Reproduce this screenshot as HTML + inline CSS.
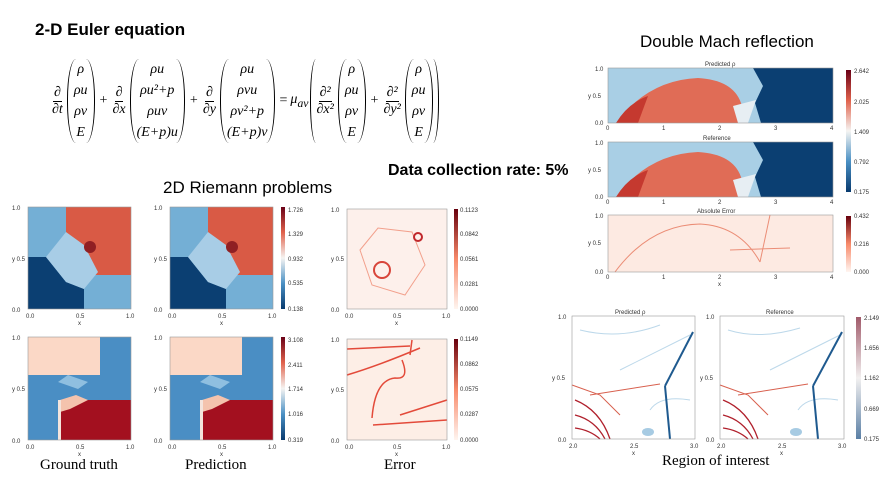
<!DOCTYPE html>
<html><head><meta charset="utf-8"><style>
body{margin:0;background:#fff;width:895px;height:478px;overflow:hidden;position:relative;font-family:"Liberation Sans",sans-serif}
.t{position:absolute;white-space:nowrap}
svg text{font-family:"Liberation Sans",sans-serif}
.eq{position:absolute;left:50px;top:56px;height:90px;display:flex;align-items:center;font-family:"Liberation Serif",serif;font-size:14px;font-style:italic}
.fr{display:inline-flex;flex-direction:column;align-items:center;margin:0 2px}
.fr span:first-child{border-bottom:1px solid #000;padding:0 1px}
.vec{display:inline-flex;flex-direction:column;align-items:center;justify-content:space-around;height:84px;border-left:1.3px solid #000;border-right:1.3px solid #000;border-radius:9px/40px;padding:0 6px;margin:0 2px}
.op{margin:0 3px;font-style:normal}
</style></head><body>
<svg width="895" height="478" style="position:absolute;left:0;top:0">
<defs>
<linearGradient id="rb" x1="0" y1="1" x2="0" y2="0"><stop offset="0" stop-color="#083a6e"/><stop offset=".25" stop-color="#4a90c4"/><stop offset=".5" stop-color="#f5f4f2"/><stop offset=".75" stop-color="#e0624c"/><stop offset="1" stop-color="#690016"/></linearGradient>
<linearGradient id="rd" x1="0" y1="1" x2="0" y2="0"><stop offset="0" stop-color="#fff5f0"/><stop offset=".5" stop-color="#f88a6a"/><stop offset="1" stop-color="#67000d"/></linearGradient>
<linearGradient id="rbp" x1="0" y1="1" x2="0" y2="0"><stop offset="0" stop-color="#5a7fa5"/><stop offset=".5" stop-color="#f2f0f0"/><stop offset="1" stop-color="#a05a6a"/></linearGradient>
<g id="r1">
<rect width="103" height="102" fill="#74afd5"/>
<rect x="38" width="65" height="68" fill="#d95a45"/>
<polygon points="0,50 18,50 38,75 56,82 56,102 0,102" fill="#0b3f72"/>
<polygon points="18,50 38,25 56,38 70,65 56,82 38,75" fill="#a8cde6"/>
<circle cx="62" cy="40" r="6" fill="#901f23"/>
</g>
<g id="r2">
<rect width="103" height="103" fill="#4a8ec4"/>
<rect width="72" height="38" fill="#fbd8c6"/>
<polygon points="40,38 60,45 50,52 30,45" fill="#8fbfe0"/>
<rect x="32" y="63" width="71" height="40" fill="#a3101f"/>
<polygon points="32,63 48,58 60,63 42,72 32,75" fill="#f4c3ad"/>
<rect x="30" y="63" width="3" height="40" fill="#f4e4dc"/>
</g>
<g id="dmr">
<rect width="225" height="55" fill="#a9cfe5"/>
<polygon points="145,0 225,0 225,55 153,55 147,35 155,18" fill="#0b3f72"/>
<path d="M8,55 Q40,12 90,10 Q125,12 133,35 L140,55 Z" fill="#e06c56"/>
<path d="M8,55 Q20,35 40,28 L30,55Z" fill="#c5392f"/>
<polygon points="125,38 148,32 140,55 130,55" fill="#e7eef3"/>
</g>
</defs>
<use href="#r1" x="28" y="207"/><use href="#r1" x="170" y="207"/>
<rect x="347" y="209" width="100" height="100" fill="#fdf0eb"/>
<polygon points="360,250 378,228 412,232 425,265 405,295 372,285" fill="none" stroke="#f2a08c" stroke-width="1"/>
<circle cx="382" cy="270" r="8" fill="none" stroke="#d8453a" stroke-width="2"/><circle cx="418" cy="237" r="4" fill="none" stroke="#c0282c" stroke-width="2"/>
<use href="#r2" x="28" y="337"/><use href="#r2" x="170" y="337"/>
<rect x="347" y="339" width="100" height="101" fill="#fdeee6"/>
<g fill="none" stroke="#e34a3a" stroke-width="1.5"><path d="M347,349 L410,346"/><path d="M347,375 Q380,365 420,348"/><path d="M373,425 L447,420"/><path d="M372,418 Q375,380 395,378 Q410,380 402,360"/><path d="M400,415 L447,400"/><path d="M410,355 L412,340"/></g>
<g fill="url(#rb)"><rect x="281" y="207" width="4" height="102"/><rect x="281" y="337" width="4" height="103"/></g>
<g fill="url(#rd)"><rect x="454" y="209" width="4" height="100"/><rect x="454" y="339" width="4" height="101"/></g>
<g fill="none" stroke="#999" stroke-width=".6"><rect x="28" y="207" width="103" height="102"/><rect x="170" y="207" width="103" height="102"/><rect x="347" y="209" width="100" height="100"/><rect x="28" y="337" width="103" height="103"/><rect x="170" y="337" width="103" height="103"/><rect x="347" y="339" width="100" height="101"/></g>
<g font-size="6" fill="#333">
<text x="12" y="210">1.0</text><text x="12" y="261">y 0.5</text><text x="12" y="312">0.0</text><text x="26" y="318">0.0</text><text x="76" y="318">0.5</text><text x="126" y="318">1.0</text><text x="78" y="325">x</text>
<text x="154" y="210">1.0</text><text x="154" y="261">y 0.5</text><text x="154" y="312">0.0</text><text x="168" y="318">0.0</text><text x="218" y="318">0.5</text><text x="268" y="318">1.0</text><text x="220" y="325">x</text>
<text x="12" y="340">1.0</text><text x="12" y="391">y 0.5</text><text x="12" y="443">0.0</text><text x="26" y="449">0.0</text><text x="76" y="449">0.5</text><text x="126" y="449">1.0</text><text x="78" y="456">x</text>
<text x="154" y="340">1.0</text><text x="154" y="391">y 0.5</text><text x="154" y="443">0.0</text><text x="168" y="449">0.0</text><text x="218" y="449">0.5</text><text x="268" y="449">1.0</text><text x="220" y="456">x</text>
<text x="331" y="212">1.0</text><text x="331" y="261">y 0.5</text><text x="331" y="312">0.0</text><text x="345" y="318">0.0</text><text x="393" y="318">0.5</text><text x="442" y="318">1.0</text><text x="395" y="325">x</text>
<text x="331" y="342">1.0</text><text x="331" y="392">y 0.5</text><text x="331" y="443">0.0</text><text x="345" y="449">0.0</text><text x="393" y="449">0.5</text><text x="442" y="449">1.0</text><text x="395" y="456">x</text>
<text x="288" y="212">1.726</text><text x="288" y="236">1.329</text><text x="288" y="261">0.932</text><text x="288" y="285">0.535</text><text x="288" y="311">0.138</text>
<text x="288" y="342">3.108</text><text x="288" y="367">2.411</text><text x="288" y="391">1.714</text><text x="288" y="416">1.016</text><text x="288" y="442">0.319</text>
<text x="460" y="212">0.1123</text><text x="460" y="236">0.0842</text><text x="460" y="261">0.0561</text><text x="460" y="286">0.0281</text><text x="460" y="311">0.0000</text>
<text x="460" y="341">0.1149</text><text x="460" y="366">0.0862</text><text x="460" y="391">0.0575</text><text x="460" y="416">0.0287</text><text x="460" y="442">0.0000</text>
</g>
<use href="#dmr" x="608" y="68"/><use href="#dmr" x="608" y="142"/>
<rect x="608" y="215" width="225" height="57" fill="#fdeae2"/>
<g fill="none" stroke="#eb8d76" stroke-width="1"><path d="M615,272 Q650,225 700,224 Q740,226 760,262"/><path d="M760,262 L770,215"/><path d="M730,250 L790,248"/></g>
<rect x="846" y="70" width="5" height="122" fill="url(#rb)"/><rect x="846" y="216" width="5" height="56" fill="url(#rd)"/>
<g fill="none" stroke="#999" stroke-width=".6"><rect x="608" y="68" width="225" height="55"/><rect x="608" y="142" width="225" height="55"/><rect x="608" y="215" width="225" height="57"/></g>
<g font-size="6" fill="#333">
<text x="705" y="66">Predicted ρ</text><text x="703" y="140">Reference</text><text x="697" y="213">Absolute Error</text>
<text x="595" y="71">1.0</text><text x="588" y="98">y 0.5</text><text x="595" y="125">0.0</text>
<text x="595" y="145">1.0</text><text x="588" y="172">y 0.5</text><text x="595" y="199">0.0</text>
<text x="595" y="218">1.0</text><text x="588" y="245">y 0.5</text><text x="595" y="274">0.0</text>
<text x="606" y="130">0</text><text x="662" y="130">1</text><text x="718" y="130">2</text><text x="774" y="130">3</text><text x="830" y="130">4</text>
<text x="606" y="204">0</text><text x="662" y="204">1</text><text x="718" y="204">2</text><text x="774" y="204">3</text><text x="830" y="204">4</text>
<text x="606" y="279">0</text><text x="662" y="279">1</text><text x="718" y="279">2</text><text x="774" y="279">3</text><text x="830" y="279">4</text><text x="718" y="286">x</text>
<text x="854" y="73">2.642</text><text x="854" y="104">2.025</text><text x="854" y="134">1.409</text><text x="854" y="164">0.792</text><text x="854" y="194">0.175</text>
<text x="854" y="218">0.432</text><text x="854" y="246">0.216</text><text x="854" y="274">0.000</text>
</g>
<g fill="none" stroke-width="1">
<g stroke="#bcd8ea"><path d="M580,330 Q620,340 660,325"/><path d="M620,370 L690,335"/><path d="M650,410 Q660,395 690,400"/><path d="M728,330 Q760,340 800,328"/><path d="M770,370 L840,335"/><path d="M798,410 Q808,395 838,400"/></g>
<g stroke="#d8604e"><path d="M572,385 L600,395 L620,415"/><path d="M720,385 L748,395 L768,415"/><path d="M590,395 L660,384"/><path d="M738,395 L808,384"/></g>
<g stroke="#b0202c" stroke-width="1.3"><path d="M575,400 Q600,410 610,439"/><path d="M575,415 Q595,420 605,439"/><path d="M575,428 Q590,430 600,439"/><path d="M723,400 Q748,410 758,439"/><path d="M723,415 Q743,420 753,439"/><path d="M723,428 Q738,430 748,439"/></g>
<g stroke="#1f5a8f" stroke-width="2"><path d="M665,386 L693,332"/><path d="M665,386 L670,439"/><path d="M813,386 L842,332"/><path d="M813,386 L818,439"/></g>
</g>
<ellipse cx="648" cy="432" rx="6" ry="4" fill="#a7cbe3"/><ellipse cx="796" cy="432" rx="6" ry="4" fill="#a7cbe3"/>
<rect x="856" y="317" width="5" height="122" fill="url(#rbp)"/>
<g fill="none" stroke="#999" stroke-width=".6"><rect x="572" y="316" width="123" height="123"/><rect x="720" y="316" width="124" height="123"/></g>
<g font-size="6" fill="#333">
<text x="615" y="314">Predicted ρ</text><text x="766" y="314">Reference</text>
<text x="558" y="319">1.0</text><text x="552" y="380">y 0.5</text><text x="558" y="442">0.0</text>
<text x="706" y="319">1.0</text><text x="700" y="380">y 0.5</text><text x="706" y="442">0.0</text>
<text x="569" y="448">2.0</text><text x="630" y="448">2.5</text><text x="690" y="448">3.0</text><text x="632" y="455">x</text>
<text x="717" y="448">2.0</text><text x="778" y="448">2.5</text><text x="838" y="448">3.0</text><text x="780" y="455">x</text>
<text x="864" y="320">2.149</text><text x="864" y="350">1.656</text><text x="864" y="380">1.162</text><text x="864" y="411">0.669</text><text x="864" y="441">0.175</text>
</g>
</svg>
<div class="t" style="left:35px;top:20px;font-size:17px;font-weight:bold">2-D Euler equation</div>
<div class="eq">
<span class="fr"><span>∂</span><span>∂t</span></span>
<span class="vec"><span>ρ</span><span>ρu</span><span>ρv</span><span>E</span></span>
<span class="op">+</span>
<span class="fr"><span>∂</span><span>∂x</span></span>
<span class="vec"><span>ρu</span><span>ρu²+p</span><span>ρuv</span><span>(E+p)u</span></span>
<span class="op">+</span>
<span class="fr"><span>∂</span><span>∂y</span></span>
<span class="vec"><span>ρu</span><span>ρvu</span><span>ρv²+p</span><span>(E+p)v</span></span>
<span class="op">=</span><span>μ<sub>av</sub></span>
<span class="vec" style="border-radius:6px/40px;padding:0 3px">
<span style="display:flex;align-items:center;height:84px">
<span class="fr"><span>∂²</span><span>∂x²</span></span>
<span class="vec"><span>ρ</span><span>ρu</span><span>ρv</span><span>E</span></span>
<span class="op">+</span>
<span class="fr"><span>∂²</span><span>∂y²</span></span>
<span class="vec"><span>ρ</span><span>ρu</span><span>ρv</span><span>E</span></span>
</span></span>
</div>
<div class="t" style="left:640px;top:32px;font-size:17px">Double Mach reflection</div>
<div class="t" style="left:388px;top:162px;font-size:16px;font-weight:bold">Data collection rate: 5%</div>
<div class="t" style="left:163px;top:178px;font-size:17px">2D Riemann problems</div>
<div class="t" style="left:40px;top:457px;font-size:15px;font-family:'Liberation Serif',serif">Ground truth</div>
<div class="t" style="left:185px;top:457px;font-size:15px;font-family:'Liberation Serif',serif">Prediction</div>
<div class="t" style="left:384px;top:457px;font-size:15px;font-family:'Liberation Serif',serif">Error</div>
<div class="t" style="left:662px;top:453px;font-size:15px;font-family:'Liberation Serif',serif">Region of interest</div>
</body></html>
